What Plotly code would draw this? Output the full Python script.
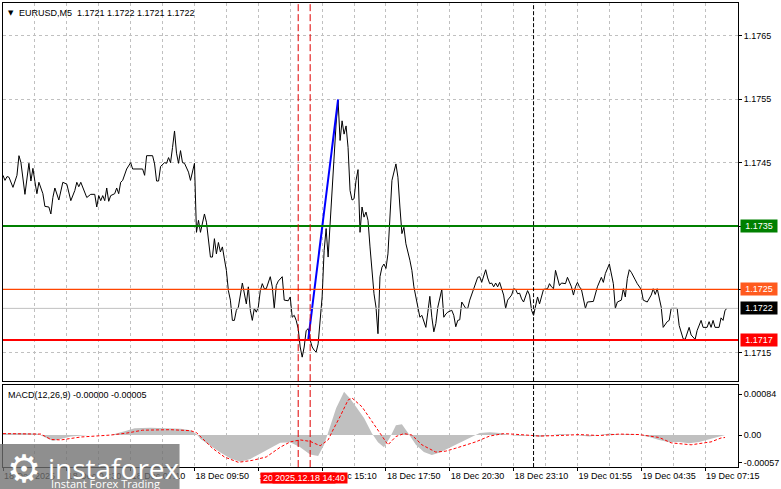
import plotly.graph_objects as go

FONT = "Liberation Sans"

# ---------------- price data (M5 closes) ----------------
times_18 = ["01:50","01:55","02:00","02:05","02:15","02:25","02:30","02:35","02:45","02:55",
            "03:00","03:05","03:10","03:15","03:20","03:30","03:35","03:45","03:50","03:55",
            "04:00","04:10","04:20","04:30","04:40","04:50","04:55","05:00","05:05","05:20",
            "05:30","05:40","05:45","05:50","05:55","06:00","06:05","06:10","06:15","06:20",
            "06:30","06:35","06:40","06:45","06:50","07:00","07:10","07:15","07:40","07:45",
            "07:50","08:05","08:10","08:15","08:20","08:25","08:35","08:40","08:45","08:50",
            "08:55","09:00","09:05","09:10","09:15","09:20","09:25","09:35","09:40","09:45",
            "09:50","09:55","10:00","10:05","10:10","10:15","10:20","10:25","10:30","10:35",
            "10:40","10:45","10:50","10:55","11:00","11:05","11:10","11:15","11:20","11:25",
            "11:30","11:35","11:40","11:50","11:55","12:00","12:05","12:10","12:15","12:20",
            "12:25","12:30","12:35","12:40","12:45","12:50","13:00","13:05","13:10","13:15",
            "13:20","13:30","13:35","13:45","13:50","13:55","14:00","14:05","14:10","14:15",
            "14:20","14:25","14:30","14:35","14:40","14:45","14:50","14:55","15:00","15:05",
            "15:10","15:15","15:20","15:25","15:30","15:35","15:40","15:45","15:50","15:55",
            "16:00","16:05","16:10","16:15","16:20","16:25","16:30","16:35","16:40","16:45",
            "16:50","16:55","17:00","17:05","17:10","17:15","17:20","17:25","17:30","17:35",
            "17:40","17:45","17:50","17:55","18:00","18:05","18:15","18:20","18:25","18:30",
            "18:35","18:40","18:50","18:55","19:00","19:10","19:15","19:20","19:25","19:30",
            "19:35","19:40","19:45","19:50","19:55","20:00","20:10","20:15","20:20","20:25",
            "20:35","20:40","20:45","20:50","20:55","21:00","21:10","21:15","21:20","21:25",
            "21:30","21:40","21:45","21:50","21:55","22:00","22:05","22:10","22:15","22:20",
            "22:25","22:30","22:35","22:40","22:45","22:50","22:55","23:05","23:10","23:15",
            "23:20","23:25","23:30","23:35","23:40","23:45","23:50","23:55"]
close_18 = [1.17430,1.17422,1.17428,1.17427,1.17411,1.17430,1.17461,1.17450,1.17400,1.17449,
            1.17421,1.17441,1.17420,1.17401,1.17419,1.17401,1.17381,1.17380,1.17369,1.17395,
            1.17410,1.17391,1.17419,1.17416,1.17390,1.17406,1.17419,1.17412,1.17419,1.17395,
            1.17400,1.17400,1.17380,1.17398,1.17390,1.17398,1.17390,1.17410,1.17389,1.17398,
            1.17401,1.17410,1.17401,1.17419,1.17422,1.17440,1.17450,1.17440,1.17440,1.17430,
            1.17461,1.17461,1.17448,1.17421,1.17421,1.17444,1.17450,1.17449,1.17458,1.17450,
            1.17474,1.17500,1.17465,1.17449,1.17469,1.17450,1.17449,1.17435,1.17422,1.17437,
            1.17449,1.17340,1.17359,1.17340,1.17353,1.17369,1.17356,1.17330,1.17301,1.17301,
            1.17330,1.17306,1.17324,1.17309,1.17317,1.17298,1.17280,1.17248,1.17233,1.17201,
            1.17201,1.17217,1.17222,1.17260,1.17246,1.17227,1.17254,1.17217,1.17201,1.17220,
            1.17214,1.17222,1.17248,1.17259,1.17251,1.17251,1.17270,1.17254,1.17220,1.17256,
            1.17263,1.17270,1.17233,1.17232,1.17238,1.17206,1.17209,1.17201,1.17188,1.17159,
            1.17143,1.17159,1.17185,1.17188,1.17170,1.17159,1.17154,1.17151,1.17164,1.17201,
            1.17238,1.17311,1.17346,1.17301,1.17354,1.17406,1.17474,1.17511,1.17548,1.17485,
            1.17516,1.17495,1.17508,1.17474,1.17406,1.17391,1.17393,1.17422,1.17439,1.17340,
            1.17380,1.17364,1.17372,1.17359,1.17317,1.17275,1.17243,1.17222,1.17180,1.17270,
            1.17285,1.17290,1.17283,1.17306,1.17369,1.17422,1.17448,1.17427,1.17380,1.17338,
            1.17348,1.17322,1.17296,1.17280,1.17254,1.17222,1.17206,1.17209,1.17201,1.17190,
            1.17214,1.17239,1.17206,1.17183,1.17196,1.17222,1.17250,1.17206,1.17211,1.17214,
            1.17217,1.17209,1.17191,1.17201,1.17202,1.17230,1.17220,1.17220,1.17233,1.17243,
            1.17251,1.17269,1.17270,1.17261,1.17272,1.17281,1.17268,1.17259,1.17260,1.17254,
            1.17260,1.17254,1.17261,1.17250,1.17241,1.17220,1.17233,1.17241,1.17251,1.17250,
            1.17243,1.17244,1.17235,1.17230,1.17239,1.17248,1.17241,1.17217]
times_19 = ["00:00","00:05","00:10","00:15","00:20","00:25","00:35","00:40","00:45","00:50",
            "00:55","01:00","01:05","01:10","01:20","01:25","01:35","01:40","01:45","01:50",
            "01:55","02:00","02:10","02:15","02:30","02:40","02:50","02:55","03:00","03:10",
            "03:20","03:25","03:30","03:40","03:45","03:50","03:55","04:00","04:05","04:15",
            "04:20","04:30","04:35","04:45","04:55","05:00","05:05","05:10","05:15","05:20",
            "05:25","05:35","05:40","05:45","06:00","06:05","06:15","06:20","06:30","06:35",
            "06:45","06:50","07:00","07:05","07:15","07:20","07:25","07:30","07:35","07:45",
            "07:50","07:55","08:00","08:05"]
close_19 = [1.17209,1.17222,1.17238,1.17227,1.17241,1.17250,1.17251,1.17259,1.17254,1.17251,
            1.17280,1.17269,1.17256,1.17260,1.17259,1.17269,1.17254,1.17241,1.17254,1.17261,
            1.17254,1.17250,1.17220,1.17230,1.17231,1.17254,1.17269,1.17261,1.17275,1.17290,
            1.17259,1.17220,1.17230,1.17233,1.17251,1.17238,1.17267,1.17281,1.17277,1.17265,
            1.17259,1.17250,1.17233,1.17230,1.17241,1.17251,1.17242,1.17251,1.17238,1.17222,
            1.17190,1.17199,1.17201,1.17220,1.17220,1.17193,1.17172,1.17171,1.17190,1.17178,
            1.17171,1.17185,1.17201,1.17190,1.17190,1.17199,1.17190,1.17201,1.17190,1.17190,
            1.17205,1.17201,1.17217,1.17220]

# ---------------- MACD(12,26,9) panel, values in units of 1e-4 ----------------
macd_times = ["2025-12-18 01:50","2025-12-18 02:35","2025-12-18 03:15","2025-12-18 03:35","2025-12-18 03:55",
              "2025-12-18 04:15","2025-12-18 04:40","2025-12-18 05:25","2025-12-18 06:20","2025-12-18 06:55",
              "2025-12-18 07:20","2025-12-18 08:00","2025-12-18 08:35","2025-12-18 09:15","2025-12-18 09:40",
              "2025-12-18 09:55","2025-12-18 10:05","2025-12-18 10:30","2025-12-18 10:55","2025-12-18 11:20",
              "2025-12-18 11:45","2025-12-18 12:10","2025-12-18 12:35","2025-12-18 13:00","2025-12-18 13:25",
              "2025-12-18 13:50","2025-12-18 14:15","2025-12-18 14:40","2025-12-18 15:00","2025-12-18 15:15",
              "2025-12-18 15:30","2025-12-18 15:45","2025-12-18 16:05","2025-12-18 16:20","2025-12-18 16:35",
              "2025-12-18 16:55","2025-12-18 17:15","2025-12-18 17:30","2025-12-18 17:45","2025-12-18 18:00",
              "2025-12-18 18:15","2025-12-18 18:30","2025-12-18 18:45","2025-12-18 19:05","2025-12-18 19:25",
              "2025-12-18 19:45","2025-12-18 20:05","2025-12-18 20:30","2025-12-18 20:55","2025-12-18 21:20",
              "2025-12-18 21:45","2025-12-18 22:10","2025-12-18 22:35","2025-12-18 23:00","2025-12-18 23:25",
              "2025-12-18 23:50","2025-12-19 00:15","2025-12-19 00:40","2025-12-19 01:05","2025-12-19 01:30",
              "2025-12-19 01:55","2025-12-19 02:20","2025-12-19 02:45","2025-12-19 03:10","2025-12-19 03:35",
              "2025-12-19 04:00","2025-12-19 04:25","2025-12-19 04:50","2025-12-19 05:15","2025-12-19 05:40",
              "2025-12-19 06:05","2025-12-19 06:30","2025-12-19 06:55","2025-12-19 07:20","2025-12-19 07:40",
              "2025-12-19 08:00"]
macd_main = [0.3, 0.4, 0.3, -0.5, -1.2, -0.8, -0.3, 0.0, 0.0, 0.8,
             1.4, 1.5, 1.4, 1.3, 1.0, 0.2, -0.8, -2.2, -3.6, -4.8,
             -5.5, -4.9, -3.8, -2.6, -1.6, -1.5, -2.5, -4.0, -4.3, -2.0,
             2.0, 5.5, 8.9, 7.5, 5.8, 3.5, 0.3, -1.5, -2.5, -0.5,
             2.0, 2.2, 0.5, -2.0, -3.5, -4.1, -3.6, -2.6, -1.6, -0.6,
             0.4, 0.6, 0.4, 0.0, -0.2, -0.1, -0.4, -0.1, 0.2, 0.1,
             -0.1, -0.3, 0.0, 0.3, 0.1, 0.2, 0.0, -0.4, -1.0, -1.5,
             -1.4, -1.7, -1.4, -0.9, -0.4, 0.0]
signal_times = ["2025-12-18 01:50","2025-12-18 03:25","2025-12-18 03:50","2025-12-18 04:15","2025-12-18 05:05",
                "2025-12-18 06:20","2025-12-18 07:00","2025-12-18 07:40","2025-12-18 08:50","2025-12-18 09:40",
                "2025-12-18 09:55","2025-12-18 10:15","2025-12-18 10:35","2025-12-18 11:05","2025-12-18 11:40",
                "2025-12-18 12:15","2025-12-18 12:50","2025-12-18 13:25","2025-12-18 13:50","2025-12-18 14:15",
                "2025-12-18 14:40","2025-12-18 15:05","2025-12-18 15:25","2025-12-18 15:40","2025-12-18 15:55",
                "2025-12-18 16:15","2025-12-18 16:25","2025-12-18 16:50","2025-12-18 17:25","2025-12-18 17:55",
                "2025-12-18 18:15","2025-12-18 18:35","2025-12-18 18:55","2025-12-18 19:20","2025-12-18 19:55",
                "2025-12-18 20:20","2025-12-18 20:45","2025-12-18 21:35","2025-12-18 22:10","2025-12-18 22:45",
                "2025-12-18 23:25","2025-12-19 00:15","2025-12-19 01:05","2025-12-19 01:55","2025-12-19 02:45",
                "2025-12-19 03:35","2025-12-19 04:25","2025-12-19 05:15","2025-12-19 05:45","2025-12-19 06:35",
                "2025-12-19 07:25","2025-12-19 07:50","2025-12-19 08:00"]
signal_vals = [0.3, 0.2, -0.9, -1.0, -0.4, 0.0, 0.4, 1.0, 1.1, 0.9,
               0.5, -1.0, -2.7, -4.5, -5.6, -5.2, -4.5, -2.5, -1.4, -1.0,
               -1.3, -2.2, -1.0, 1.5, 3.8, 7.2, 7.6, 5.8, 1.7, -2.0,
               -0.3, 0.3, 0.0, -2.0, -3.5, -3.3, -2.7, -1.4, -0.2, 0.3,
               0.1, -0.2, -0.1, 0.1, -0.1, 0.2, 0.1, -0.5, -1.6, -2.0,
               -1.4, -0.6, -0.5]
macd_scale = 1e-4

# ---------------- chart objects ----------------
level_prices = [1.1735, 1.1725, 1.1722, 1.1717]
level_colors = ["#008000", "#FF4500", "#C0C0C0", "#FF0000"]
level_box_colors = ["#008000", "#FF5A1E", "#000000", "#FF0000"]
level_widths = [2, 1.2, 1, 2]
trend_times = ["2025-12-18 14:35", "2025-12-18 15:50"]
trend_prices = [1.1717, 1.1755]
event_times = ["2025-12-18 14:10", "2025-12-18 14:40"]
event_labels = ["2025.12.18 14:10", "2025.12.18 14:40"]
day_separator = "2025-12-19 00:00"

price_ticks = [1.1765, 1.1755, 1.1745, 1.1735, 1.1725, 1.1715]
time_tickvals = ["2025-12-18 01:50", "2025-12-18 04:30", "2025-12-18 07:10", "2025-12-18 09:50",
                 "2025-12-18 12:30", "2025-12-18 15:10", "2025-12-18 17:50", "2025-12-18 20:30",
                 "2025-12-18 23:10", "2025-12-19 01:50", "2025-12-19 04:30", "2025-12-19 07:10"]
time_ticktext = ["18 Dec 2025", "18 Dec 04:30", "18 Dec 07:10", "18 Dec 09:50", "18 Dec 12:30",
                 "18 Dec 15:10", "18 Dec 17:50", "18 Dec 20:30", "18 Dec 23:10", "19 Dec 01:55",
                 "19 Dec 04:35", "19 Dec 07:15"]
macd_tickvals = [0.00084, 0.0, -0.00057]
macd_ticktext = ["0.00084", "0.00", "-0.00057"]

price_x = [f"2025-12-18 {t}" for t in times_18] + [f"2025-12-19 {t}" for t in times_19]
price_y = close_18 + close_19

X_RANGE = ["2025-12-18 01:50", "2025-12-19 08:32:30"]
GRID = "#C0C0C0"
tick_font = dict(family=FONT, size=9, color="black")

fig = go.Figure()

fig.add_trace(go.Scatter(x=price_x, y=price_y, mode="lines",
                         line=dict(color="black", width=1), xaxis="x", yaxis="y"))
fig.add_trace(go.Scatter(x=trend_times, y=trend_prices, mode="lines",
                         line=dict(color="#0000FF", width=2), xaxis="x", yaxis="y"))
fig.add_trace(go.Scatter(x=macd_times, y=[v * macd_scale for v in macd_main], mode="lines",
                         line=dict(color=GRID, width=0), fill="tozeroy", fillcolor=GRID,
                         xaxis="x2", yaxis="y2"))
fig.add_trace(go.Scatter(x=signal_times, y=[v * macd_scale for v in signal_vals], mode="lines",
                         line=dict(color="#FF0000", width=1, dash="3px,2px"),
                         xaxis="x2", yaxis="y2"))

shapes = []
for p, c, w in zip(level_prices, level_colors, level_widths):
    shapes.append(dict(type="line", xref="x domain", x0=0, x1=1, yref="y", y0=p, y1=p,
                       line=dict(color=c, width=w)))
for t in event_times:
    for yr in ["y domain", "y2 domain"]:
        shapes.append(dict(type="line", xref="x", x0=t, x1=t, yref=yr, y0=0, y1=1,
                           line=dict(color="#E00000", width=1, dash="7px,3px")))
for yr in ["y domain", "y2 domain"]:
    shapes.append(dict(type="line", xref="x", x0=day_separator, x1=day_separator, yref=yr, y0=0, y1=1,
                       line=dict(color="black", width=1, dash="4px,2px")))
# logo plate
shapes.append(dict(type="rect", xref="paper", yref="paper", x0=-0.005, x1=0.2402, y0=-0.06, y1=0.0495,
                   fillcolor="rgba(112,112,112,0.78)", line=dict(width=0), layer="above"))

annotations = []
for p, bc in zip(level_prices, level_box_colors):
    annotations.append(dict(xref="paper", x=1, xanchor="left", xshift=2, yref="y", y=p,
                            text=f"{p:.4f}", showarrow=False, bgcolor=bc, width=34, align="center",
                            borderpad=1, font=dict(family=FONT, size=9, color="white")))
for t, lab in zip(event_times, event_labels):
    annotations.append(dict(xref="x2", x=t, yref="paper", y=0, yanchor="middle", yshift=-10.5,
                            text=lab, showarrow=False, bgcolor="#FF0000", width=74, borderpad=0,
                            font=dict(family=FONT, size=9, color="white")))
annotations += [
    dict(xref="paper", x=0, xanchor="left", xshift=3, yref="paper", y=1, yanchor="middle", yshift=-10,
         text="▼", showarrow=False, font=dict(family="DejaVu Sans", size=7, color="black")),
    dict(xref="paper", x=0, xanchor="left", xshift=14, yref="paper", y=1, yanchor="middle", yshift=-10,
         text="EURUSD,M5  1.1721 1.1722 1.1721 1.1722", showarrow=False, font=tick_font),
    dict(xref="paper", x=0, xanchor="left", xshift=3, yref="y2 domain", y=1, yanchor="middle", yshift=-10,
         text="MACD(12,26,9) -0.00000 -0.00005", showarrow=False, font=tick_font),
    dict(xref="paper", x=0, xanchor="left", xshift=2, yref="paper", y=-0.005, yanchor="middle",
         text="⚙", showarrow=False, font=dict(family="DejaVu Sans", size=38, color="white")),
    dict(xref="paper", x=0, xanchor="left", xshift=43, yref="paper", y=0.0, yanchor="middle", yshift=-1,
         text="instaforex", showarrow=False, font=dict(family="Open Sans", size=28, color="white")),
    dict(xref="paper", x=0, xanchor="left", xshift=46, yref="paper", y=0.0, yanchor="middle", yshift=-16,
         text="Instant Forex Trading", showarrow=False, font=dict(family="Open Sans", size=11, color="white")),
]

axis_common = dict(showline=True, linecolor="black", linewidth=1, mirror=True)

fig.update_layout(
    width=781, height=489,
    margin=dict(l=3, r=41, t=2, b=22),
    paper_bgcolor="white", plot_bgcolor="white",
    showlegend=False,
    xaxis=dict(type="date", range=X_RANGE, anchor="y", showticklabels=False,
               tickvals=time_tickvals, ticks="", showgrid=True, gridcolor=GRID, griddash="3px,3px",
               minor=dict(dtick=80 * 60 * 1000, tick0="2025-12-18 01:50", showgrid=True,
                          gridcolor=GRID, griddash="3px,3px"),
               **axis_common),
    yaxis=dict(domain=[0.185, 1], range=[1.171051, 1.17702], side="right",
               tickvals=price_ticks, ticktext=[f"{v:.4f}" for v in price_ticks],
               ticks="outside", ticklen=3, tickcolor="black", tickfont=tick_font,
               showgrid=True, gridcolor=GRID, griddash="3px,3px", zeroline=False, **axis_common),
    xaxis2=dict(type="date", range=X_RANGE, anchor="y2", matches="x",
                tickvals=time_tickvals, ticktext=time_ticktext, ticklabelposition="outside right",
                ticks="outside", ticklen=3, tickcolor="black", tickfont=tick_font,
                showgrid=True, gridcolor=GRID, griddash="3px,3px",
                minor=dict(dtick=80 * 60 * 1000, tick0="2025-12-18 01:50", showgrid=True,
                           gridcolor=GRID, griddash="3px,3px"),
                **axis_common),
    yaxis2=dict(domain=[0, 0.1763], range=[-0.000656, 0.001024], side="right",
                tickvals=macd_tickvals, ticktext=macd_ticktext,
                ticks="outside", ticklen=3, tickcolor="black", tickfont=tick_font,
                showgrid=False, zeroline=False, **axis_common),
    shapes=shapes,
    annotations=annotations,
)

fig.write_html("out.html", config={"displayModeBar": False},
               post_script="document.body.style.margin='0px';document.body.style.padding='0px';")
